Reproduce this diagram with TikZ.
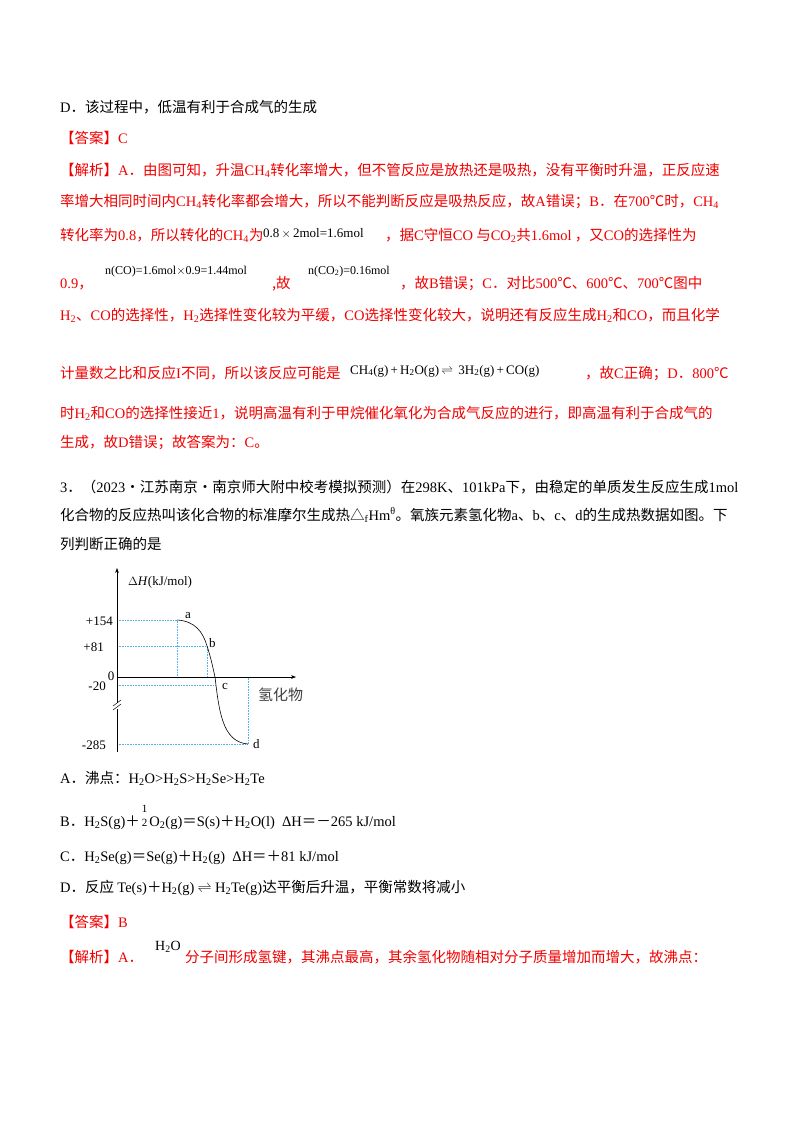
\documentclass[tikz,border=0pt]{standalone}
\usepackage{fontspec}
\usepackage{amsmath}
\usetikzlibrary{arrows.meta}
\setmainfont{Noto Sans CJK SC}
\newfontfamily\lat{Liberation Serif}
\newcommand\E[1]{{\lat #1}}
\newcommand\sub[1]{\textsubscript{#1}}
\definecolor{ansred}{RGB}{240,0,0}
\definecolor{dotblue}{RGB}{80,180,230}
\begin{document}
\begin{tikzpicture}[x=1pt,y=-1pt,
  txt/.style={anchor=base west,inner sep=0,font=\fontsize{14.5}{17}\selectfont},
  rtxt/.style={txt,text=ansred},
  ftxt/.style={anchor=base west,inner sep=0,font=\lat\fontsize{12}{14}\selectfont},
  mtxt/.style={anchor=base west,inner sep=0,font=\lat\fontsize{13}{14}\selectfont},
  gl/.style={dotblue,densely dotted,line width=0.6pt},
  lbl/.style={inner sep=0,font=\lat\fontsize{13}{15}\selectfont}]
\useasboundingbox (0,0) rectangle (800,1132);
\node[txt] (l1) at (60,112) {\E{D}．该过程中，低温有利于合成气的生成};
\node[rtxt] (l2) at (60,143) {【答案】\E{C}};
\node[rtxt] (l3) at (60,175) {【解析】\E{A}．由图可知，升温\E{CH\sub4}转化率增大，但不管反应是放热还是吸热，没有平衡时升温，正反应速};
\node[rtxt] (l4) at (60,206) {率增大相同时间内\E{CH\sub4}转化率都会增大，所以不能判断反应是吸热反应，故\E{A}错误；\E{B}．在\E{700}℃时，\E{CH\sub4}};
\node[rtxt] (l5) at (60,240) {转化率为\E{0.8}，所以转化的\E{CH\sub4}为};
\node[mtxt] (f1) at (263,237) {0.8\,$\times$\,2mol=1.6mol};
\node[rtxt] (l5b) at (385,240) {，据\E{C}守恒\E{CO} 与\E{CO\sub2}共\E{1.6mol} ，又\E{CO}的选择性为};
\node[rtxt] (l6) at (60,288) {\E{0.9}，};
\node[ftxt] (f2) at (105,274) {n(CO)=1.6mol$\times$0.9=1.44mol};
\node[rtxt] (l6b) at (272,288) {,故};
\node[ftxt] (f3) at (308,274) {n(CO\sub2)=0.16mol};
\node[rtxt] (l6c) at (400,288) {，故\E{B}错误；\E{C}．对比\E{500}℃、\E{600}℃、\E{700}℃图中};
\node[rtxt] (l7) at (60,320) {\E{H\sub2}、\E{CO}的选择性，\E{H\sub2}选择性变化较为平缓，\E{CO}选择性变化较大，说明还有反应生成\E{H\sub2}和\E{CO}，而且化学};
\node[rtxt] (l8) at (60,378) {计量数之比和反应\E{I}不同，所以该反应可能是};
\node[mtxt] (f4) at (350,374) {CH\sub4(g)\,+\,H\sub2O(g)\,$\rightleftharpoons$\, 3H\sub2(g)\,+\,CO(g)};
\node[rtxt] (l8b) at (585,378) {，故\E{C}正确；\E{D}．\E{800}℃};
\node[rtxt] (l9) at (60,418) {时\E{H\sub2}和\E{CO}的选择性接近\E{1}，说明高温有利于甲烷催化氧化为合成气反应的进行，即高温有利于合成气的};
\node[rtxt] (l10) at (60,447) {生成，故\E{D}错误；故答案为：\E{C}。};
\node[txt] (q1) at (60,492) {\E{3}．（\E{2023}·江苏南京·南京师大附中校考模拟预测）在\E{298K}、\E{101kPa}下，由稳定的单质发生反应生成\E{1mol}};
\node[txt] (q2) at (60,520) {化合物的反应热叫该化合物的标准摩尔生成热△\E{\sub{f}Hm\textsuperscript{θ}}。氧族元素氢化物\E{a}、\E{b}、\E{c}、\E{d}的生成热数据如图。下};
\node[txt] (q3) at (60,549) {列判断正确的是};
% chart
\coordinate (O) at (117,677);
\coordinate (ytop) at (117,568);
\coordinate (ybot) at (117,752);
\coordinate (xend) at (296,677);
\draw[gl] (117,620) -- (177,620) -- (177,677);
\draw[gl] (117,646) -- (207,646) -- (207,677);
\draw[gl] (117,685) -- (215,685);
\draw[gl] (117,744) -- (248,744) -- (248,677);
\draw[-{Stealth[length=5pt]},line width=0.6pt] (ybot) -- (ytop);
\draw[-{Stealth[length=5pt]},line width=0.6pt] (O) -- (xend);
\fill[white] (112,703) rectangle (122,709);
\draw[line width=0.5pt] (113,706) -- (121,700) (113,710) -- (121,704);
\coordinate (a) at (177,620);
\coordinate (b) at (207,646);
\coordinate (c) at (215,677);
\coordinate (d) at (248,744);
\draw[line width=0.6pt] (a) .. controls (195,621) and (203,632) .. (b) .. controls (211,658) and (213,668) .. (c) .. controls (219,710) and (222,742) .. (d);
\node[lbl,anchor=west] (la) at (185,616) {a};
\node[lbl,anchor=west] (lb) at (209,643) {b};
\node[lbl,anchor=west] (lc) at (222,686) {c};
\node[lbl,anchor=west] (ld) at (253,744) {d};
\node[lbl,anchor=east] (t1) at (113,621) {+154};
\node[lbl,anchor=east] (t2) at (104,647) {+81};
\node[lbl,anchor=east] (t3) at (106,686) {-20};
\node[lbl,anchor=east] (t4) at (106,745) {-285};
\node[lbl] (t0) at (111,676) {0};
\node[lbl,anchor=west] (yl) at (128,582) {$\Delta$\textit{H}(kJ/mol)};
\node[inner sep=0,font=\fontsize{15}{17}\selectfont,text=black!75,anchor=west] (xl) at (258,695) {氢化物};
% options
\node[txt] (A) at (60,783) {\E{A}．沸点：\E{H\sub2O>H\sub2S>H\sub2Se>H\sub2Te}};
\node[txt] (B) at (60,826) {\E{B}．\E{H\sub2S(g)}＋\hspace{2pt}{\lat\fontsize{11}{11}\selectfont\shortstack{1\\[3pt]2}}\hspace{2pt}\E{O\sub2(g)}＝\E{S(s)}＋\E{H\sub2O(l)\ \ ΔH}＝－\E{265 kJ/mol}};
\node[txt] (C) at (60,861) {\E{C}．\E{H\sub2Se(g)}＝\E{Se(g)}＋\E{H\sub2(g)\ \ ΔH}＝＋\E{81 kJ/mol}};
\node[txt] (D) at (60,892) {\E{D}．反应 \E{Te(s)}＋\E{H\sub2(g)} $\rightleftharpoons$ \E{H\sub2Te(g)}达平衡后升温，平衡常数将减小};
\node[rtxt] (ans) at (60,927) {【答案】\E{B}};
\node[ftxt,font=\lat\fontsize{14}{16}\selectfont] (f5) at (155,950) {H\sub2O};
\node[rtxt] (jx) at (60,962) {【解析】\E{A}．\hspace{42pt}分子间形成氢键，其沸点最高，其余氢化物随相对分子质量增加而增大，故沸点：};
\end{tikzpicture}
\end{document}
